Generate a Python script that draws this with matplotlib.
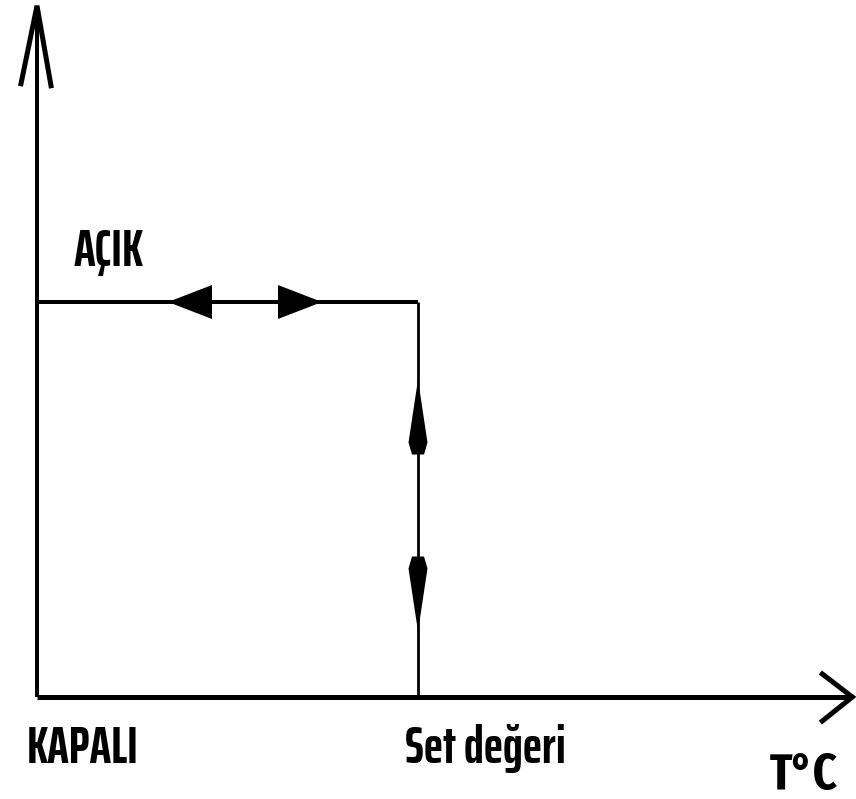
import matplotlib
matplotlib.use("Agg")
import matplotlib.pyplot as plt
from matplotlib.patches import Polygon

# --- data ---
states = ["KAPALI", "AÇIK"]          # valve state levels 0 / 1
state_values = [0.0, 1.0]
setpoint = 5.0                        # T at which valve switches
t_axis_end = 10.7
state_axis_end = 1.75
setpoint_label = "Set değeri"
t_label = "T°C"

W, H, DPI = 856, 799, 100
fig = plt.figure(figsize=(W / DPI, H / DPI), dpi=DPI)
ax = fig.add_axes([0, 0, 1, 1])
px_x = 76.2   # pixels per T unit
px_y = 395.0  # pixels per state unit
x0_px, y0_px = 37, 102  # origin in pixels from left / bottom
ax.set_xlim(-x0_px / px_x, (W - x0_px) / px_x)
ax.set_ylim(-y0_px / px_y, (H - y0_px) / px_y)
ax.axis("off")

lw_px = 0.72
k = "black"

def dx(p): return p / px_x
def dy(p): return p / px_y

# axes
ax.plot([0, t_axis_end], [0, 0], color=k, lw=5 * lw_px, solid_capstyle="butt")
ax.plot([0, 0], [0, state_axis_end], color=k, lw=4 * lw_px, solid_capstyle="butt")
# open arrowheads for axes
ax.plot([dx(-16), 0, dx(14)], [state_axis_end - dy(78), state_axis_end, state_axis_end - dy(80)],
        color=k, lw=5 * lw_px, solid_joinstyle="miter")
ax.plot([t_axis_end - dx(30), t_axis_end, t_axis_end - dx(30)], [dy(23), 0, -dy(24)],
        color=k, lw=5 * lw_px, solid_joinstyle="miter")

# step characteristic
on_level = state_values[1]
ax.plot([0, setpoint], [on_level, on_level], color=k, lw=4 * lw_px, solid_capstyle="butt")
ax.plot([setpoint, setpoint], [on_level, state_values[0]], color=k, lw=2.8 * lw_px,
        solid_capstyle="butt", solid_joinstyle="miter")

def harrow(xc, yc, direction, length=44, half=17):
    tip = xc + direction * dx(length / 2)
    base = xc - direction * dx(length / 2)
    ax.add_patch(Polygon([[tip, yc], [base, yc + dy(half)], [base, yc - dy(half)]],
                         closed=True, color=k, lw=0))

def varrow(xc, yc, direction, length=75, half=10):
    tip = yc + direction * dy(length / 2)
    base = yc - direction * dy(length / 2)
    mid = base + direction * dy(12)
    ax.add_patch(Polygon([[xc, tip], [xc + dx(half * 0.95), mid], [xc + dx(half * 0.6), base],
                          [xc - dx(half * 0.6), base], [xc - dx(half * 0.95), mid]],
                         closed=True, color=k, lw=0, joinstyle="round"))

harrow(dx(190 - x0_px), on_level, -1)
harrow(dx(300 - x0_px), on_level, +1)
varrow(setpoint, on_level - dy(115), +1)
varrow(setpoint, on_level - dy(292), -1)

fp = dict(family=["Saira ExtraCondensed", "DejaVu Sans"], fontweight="bold",
          fontsize=37, color=k)
ax.text(dx(74 - x0_px), on_level + dy(302 - 266), states[1], ha="left", va="baseline", **fp)
ax.text(dx(27 - x0_px), -dy(763 - 697), states[0], ha="left", va="baseline", **fp)
ax.text(setpoint - dx(13), -dy(763 - 697), setpoint_label, ha="left", va="baseline", **fp)
fp_t = dict(fp, family=["Fira Sans Extra Condensed", "DejaVu Sans"], fontsize=36)
ax.text(dx(770 - x0_px), -dy(789 - 697), t_label, ha="left", va="baseline", **fp_t)

fig.savefig("out.png", dpi=DPI)
